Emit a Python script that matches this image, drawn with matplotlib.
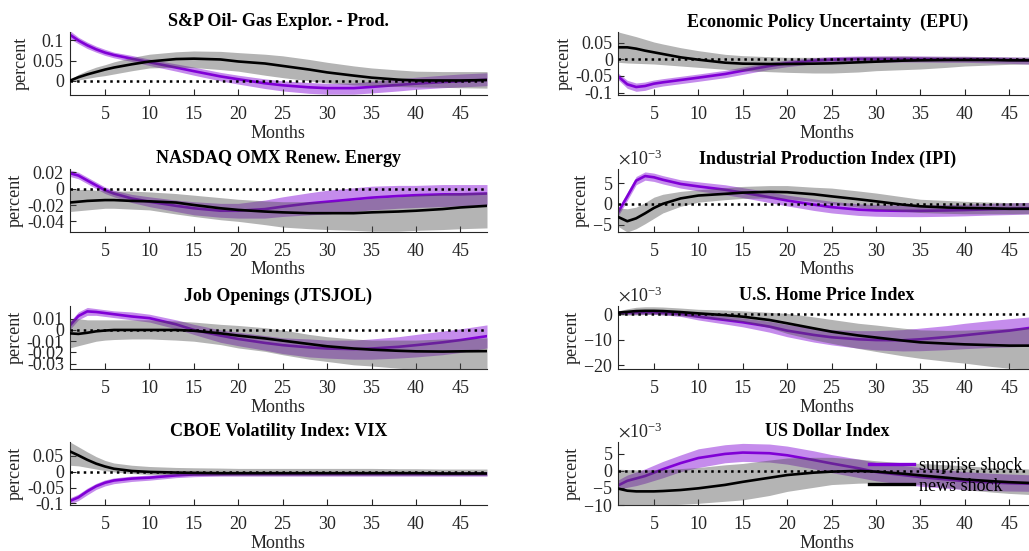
import numpy as np
import matplotlib
matplotlib.use("Agg")
import matplotlib.pyplot as plt
from matplotlib.lines import Line2D

plt.rcParams['font.family'] = ['Liberation Serif', 'DejaVu Serif']
plt.rcParams['mathtext.fontset'] = 'stix'
plt.rcParams['axes.unicode_minus'] = False

# horizon (months) at which the responses are listed
months = [1, 2, 3, 4, 5, 6, 8, 10, 13, 15, 18, 20, 23, 25, 28, 30, 33, 35, 38, 40, 43, 45, 48]

# S&P Oil & Gas Exploration & Production
oil_surprise = [0.115, 0.100, 0.088, 0.078, 0.070, 0.064, 0.055, 0.046, 0.033, 0.024, 0.011, 0.004, -0.006, -0.011,
                -0.016, -0.018, -0.018, -0.015, -0.010, -0.007, -0.003, -0.001, 0.003]
oil_surprise_lo = [0.105, 0.092, 0.080, 0.071, 0.063, 0.057, 0.048, 0.038, 0.024, 0.014, 0.000, -0.008, -0.019, -0.025,
                   -0.031, -0.033, -0.033, -0.030, -0.025, -0.021, -0.017, -0.015, -0.012]
oil_surprise_hi = [0.125, 0.108, 0.096, 0.086, 0.078, 0.071, 0.063, 0.054, 0.042, 0.034, 0.021, 0.014, 0.005, 0.000,
                   -0.004, -0.006, -0.005, -0.001, 0.005, 0.009, 0.014, 0.017, 0.020]
oil_news = [0.000, 0.009, 0.016, 0.022, 0.028, 0.033, 0.041, 0.048, 0.054, 0.055, 0.053, 0.048, 0.043, 0.037,
            0.028, 0.021, 0.013, 0.008, 0.003, 0.001, 0.001, 0.001, 0.002]
oil_news_lo = [-0.002, 0.002, 0.006, 0.010, 0.013, 0.017, 0.025, 0.032, 0.034, 0.033, 0.028, 0.024, 0.014, 0.008,
               0.000, -0.005, -0.010, -0.012, -0.014, -0.015, -0.016, -0.017, -0.018]
oil_news_hi = [0.002, 0.016, 0.026, 0.034, 0.040, 0.047, 0.058, 0.066, 0.072, 0.074, 0.073, 0.070, 0.066, 0.062,
               0.053, 0.046, 0.037, 0.032, 0.027, 0.024, 0.023, 0.023, 0.023]

# Economic Policy Uncertainty
epu_surprise = [-0.052, -0.075, -0.083, -0.080, -0.073, -0.069, -0.062, -0.055, -0.044, -0.034, -0.020, -0.012, -0.004,
                -0.001, 0.001, 0.001, 0.001, 0.001, 0.000, 0.000, -0.001, -0.002, -0.004]
epu_surprise_lo = [-0.062, -0.087, -0.096, -0.093, -0.085, -0.080, -0.073, -0.066, -0.055, -0.045, -0.030, -0.022,
                   -0.013, -0.010, -0.008, -0.008, -0.008, -0.008, -0.009, -0.009, -0.011, -0.012, -0.015]
epu_surprise_hi = [-0.042, -0.063, -0.071, -0.068, -0.062, -0.058, -0.051, -0.044, -0.033, -0.023, -0.010, -0.002,
                   0.005, 0.008, 0.010, 0.010, 0.010, 0.010, 0.009, 0.009, 0.008, 0.007, 0.006]
epu_news = [0.036, 0.036, 0.032, 0.026, 0.021, 0.016, 0.006, -0.001, -0.010, -0.013, -0.014, -0.014, -0.013, -0.012,
            -0.009, -0.007, -0.004, -0.003, -0.002, -0.002, -0.002, -0.003, -0.003]
epu_news_lo = [-0.009, -0.011, -0.012, -0.013, -0.014, -0.016, -0.020, -0.024, -0.030, -0.034, -0.037, -0.039, -0.041,
               -0.041, -0.038, -0.034, -0.031, -0.029, -0.024, -0.020, -0.017, -0.015, -0.014]
epu_news_hi = [0.082, 0.075, 0.068, 0.060, 0.052, 0.046, 0.035, 0.026, 0.015, 0.011, 0.008, 0.006, 0.006, 0.006,
               0.008, 0.009, 0.010, 0.009, 0.009, 0.009, 0.008, 0.007, 0.006]

# NASDAQ OMX Renewable Energy
renew_surprise = [0.019, 0.016, 0.010, 0.004, -0.002, -0.006, -0.012, -0.016, -0.021, -0.024, -0.027, -0.027, -0.025,
                  -0.022, -0.018, -0.016, -0.013, -0.011, -0.009, -0.008, -0.007, -0.007, -0.006]
renew_surprise_lo = [0.015, 0.012, 0.006, 0.000, -0.006, -0.010, -0.017, -0.022, -0.028, -0.032, -0.035, -0.036,
                     -0.036, -0.034, -0.032, -0.031, -0.028, -0.026, -0.024, -0.023, -0.022, -0.021, -0.020]
renew_surprise_hi = [0.023, 0.020, 0.014, 0.008, 0.002, -0.002, -0.007, -0.010, -0.014, -0.016, -0.018, -0.018,
                     -0.014, -0.010, -0.005, -0.002, 0.001, 0.003, 0.004, 0.004, 0.005, 0.005, 0.005]
renew_news = [-0.017, -0.016, -0.015, -0.0145, -0.014, -0.014, -0.015, -0.0155, -0.017, -0.020, -0.024, -0.026, -0.028,
              -0.029, -0.030, -0.030, -0.030, -0.029, -0.028, -0.027, -0.025, -0.023, -0.021]
renew_news_lo = [-0.028, -0.027, -0.026, -0.025, -0.024, -0.024, -0.025, -0.026, -0.031, -0.034, -0.038, -0.040,
                 -0.044, -0.047, -0.049, -0.050, -0.051, -0.052, -0.052, -0.051, -0.050, -0.049, -0.048]
renew_news_hi = [-0.001, -0.001, -0.001, -0.002, -0.002, -0.003, -0.003, -0.004, -0.006, -0.008, -0.011, -0.013,
                 -0.015, -0.016, -0.016, -0.016, -0.014, -0.012, -0.010, -0.008, -0.006, -0.005, -0.004]

# Industrial Production Index (x 1e-3)
ipi_surprise = [-1.9, 1.8, 5.6, 6.7, 6.4, 5.8, 4.8, 4.2, 3.4, 2.7, 1.6, 0.8, -0.2, -0.8, -1.4, -1.6, -1.7, -1.7, -1.6,
                -1.5, -1.3, -1.2, -1.0]
ipi_surprise_lo = [-2.8, 0.8, 4.6, 5.7, 5.4, 4.8, 3.8, 3.1, 2.2, 1.5, 0.3, -0.5, -1.6, -2.2, -2.8, -3.0, -3.1, -3.1,
                   -3.0, -2.9, -2.7, -2.6, -2.4]
ipi_surprise_hi = [-1.0, 2.8, 6.6, 7.7, 7.4, 6.8, 5.8, 5.3, 4.6, 3.9, 2.9, 2.1, 1.2, 0.6, 0.0, -0.2, -0.3, -0.3, -0.2,
                   -0.1, 0.1, 0.2, 0.4]
ipi_news = [-3.2, -4.2, -3.5, -2.3, -1.0, 0.0, 1.3, 2.0, 2.4, 2.7, 2.9, 2.8, 2.3, 1.8, 1.1, 0.6, -0.2, -0.6, -0.9,
            -1.0, -1.1, -1.2, -1.2]
ipi_news_lo = [-5.5, -6.8, -6.0, -4.8, -3.5, -2.2, -0.6, 0.4, 1.0, 1.3, 1.4, 1.2, 0.6, 0.0, -0.8, -1.3, -1.8, -2.1,
               -2.3, -2.4, -2.4, -2.4, -2.4]
ipi_news_hi = [-1.0, -1.2, -0.8, 0.3, 1.6, 2.3, 3.0, 3.4, 3.9, 4.2, 4.4, 4.4, 4.0, 3.8, 3.1, 2.6, 1.7, 1.1, 0.8, 0.6,
               0.4, 0.3, 0.3]

# Job Openings
jobs_surprise = [0.0036, 0.0124, 0.0165, 0.016, 0.015, 0.014, 0.012, 0.0105, 0.005, 0.000, -0.005, -0.008, -0.0115,
                 -0.0135, -0.0155, -0.0165, -0.017, -0.0165, -0.015, -0.0135, -0.011, -0.009, -0.0055]
jobs_surprise_lo = [0.000, 0.009, 0.013, 0.013, 0.012, 0.011, 0.009, 0.007, 0.001, -0.004, -0.011, -0.014, -0.018,
                    -0.021, -0.024, -0.025, -0.026, -0.026, -0.025, -0.024, -0.022, -0.020, -0.016]
jobs_surprise_hi = [0.007, 0.016, 0.020, 0.019, 0.018, 0.017, 0.016, 0.014, 0.009, 0.005, 0.000, -0.002, -0.005,
                    -0.007, -0.008, -0.009, -0.009, -0.008, -0.006, -0.004, -0.001, 0.001, 0.0045]
jobs_news = [-0.003, -0.0035, -0.0025, -0.0012, -0.0005, 0.0, 0.0, 0.0, 0.0, -0.0007, -0.003, -0.005, -0.0075,
             -0.0095, -0.0125, -0.0145, -0.0165, -0.0175, -0.0185, -0.019, -0.0192, -0.019, -0.0188]
jobs_news_lo = [-0.016, -0.014, -0.012, -0.010, -0.009, -0.0085, -0.008, -0.008, -0.009, -0.010, -0.013, -0.016,
                -0.019, -0.022, -0.026, -0.028, -0.031, -0.032, -0.034, -0.035, -0.035, -0.035, -0.035]
jobs_news_hi = [0.010, 0.010, 0.009, 0.009, 0.009, 0.009, 0.009, 0.009, 0.008, 0.007, 0.005, 0.004, 0.002, 0.000,
                -0.004, -0.006, -0.008, -0.009, -0.009, -0.009, -0.008, -0.008, -0.007]

# U.S. Home Price Index (x 1e-3)
home_surprise = [0.6, 0.7, 0.8, 0.8, 0.8, 0.6, 0.2, -0.9, -2.2, -3.1, -4.8, -6.4, -8.1, -9.0, -9.8, -10.1, -10.2,
                 -9.8, -8.9, -8.2, -7.1, -6.4, -5.0]
home_surprise_lo = [0.0, 0.0, 0.0, 0.0, 0.0, -0.2, -0.8, -2.2, -3.8, -4.9, -7.0, -8.8, -10.9, -12.0, -13.3, -14.0,
                    -14.4, -14.3, -13.9, -13.5, -13.0, -12.8, -12.5]
home_surprise_hi = [1.2, 1.4, 1.5, 1.6, 1.6, 1.4, 1.1, 0.3, -0.7, -1.4, -2.7, -4.0, -5.4, -6.0, -6.4, -6.4, -6.0,
                    -5.4, -4.4, -3.5, -2.4, -1.7, -0.8]
home_news = [0.7, 1.0, 1.3, 1.4, 1.4, 1.3, 0.9, 0.4, -0.3, -0.9, -2.2, -3.5, -5.5, -6.8, -8.3, -9.1, -10.3, -11.0,
             -11.5, -11.8, -12.1, -12.3, -12.3]
home_news_lo = [-0.3, -0.3, -0.2, -0.1, 0.0, -0.2, -0.6, -1.2, -2.2, -2.9, -5.2, -7.5, -10.0, -11.4, -13.4, -14.6,
                -16.3, -17.3, -18.5, -19.2, -20.5, -21.2, -21.5]
home_news_hi = [1.4, 2.2, 2.8, 3.0, 3.0, 2.9, 2.5, 2.0, 1.7, 1.4, 0.8, 0.4, -1.0, -2.0, -3.5, -4.2, -5.4, -6.1, -6.3,
                -6.2, -5.8, -5.5, -5.0]

# CBOE Volatility Index
vix_surprise = [-0.093, -0.081, -0.062, -0.046, -0.035, -0.028, -0.022, -0.019, -0.012, -0.009, -0.008, -0.0075,
                -0.0075, -0.0075, -0.0075, -0.0075, -0.0075, -0.0075, -0.0075, -0.0075, -0.0075, -0.0075, -0.0075]
vix_surprise_lo = [-0.103, -0.091, -0.073, -0.056, -0.045, -0.038, -0.031, -0.027, -0.019, -0.016, -0.014, -0.014,
                   -0.014, -0.014, -0.014, -0.014, -0.014, -0.014, -0.014, -0.014, -0.014, -0.014, -0.014]
vix_surprise_hi = [-0.083, -0.071, -0.052, -0.037, -0.026, -0.020, -0.014, -0.011, -0.005, -0.002, -0.001, -0.001,
                   -0.001, -0.001, -0.001, -0.001, -0.001, -0.001, -0.001, -0.001, 0.000, 0.000, 0.000]
vix_news = [0.064, 0.051, 0.037, 0.025, 0.016, 0.009, 0.002, -0.001, -0.003, -0.004, -0.005, -0.005, -0.005, -0.005,
            -0.005, -0.005, -0.005, -0.005, -0.005, -0.005, -0.006, -0.006, -0.006]
vix_news_lo = [0.020, 0.018, 0.013, 0.008, 0.003, -0.001, -0.006, -0.009, -0.011, -0.012, -0.013, -0.013, -0.013,
               -0.013, -0.013, -0.013, -0.013, -0.013, -0.013, -0.013, -0.013, -0.013, -0.013]
vix_news_hi = [0.094, 0.078, 0.062, 0.047, 0.035, 0.027, 0.020, 0.016, 0.013, 0.012, 0.011, 0.010, 0.010, 0.010,
               0.010, 0.010, 0.010, 0.010, 0.009, 0.009, 0.008, 0.008, 0.008]

# US Dollar Index (x 1e-3)
usd_surprise = [-4.2, -2.9, -2.2, -1.5, -0.5, 0.5, 2.3, 3.8, 5.0, 5.4, 5.2, 4.6, 3.2, 2.2, 0.8, -0.3, -1.2, -1.8,
                -2.5, -3.0, -3.4, -3.6, -3.8]
usd_surprise_lo = [-5.5, -4.8, -4.3, -3.6, -2.8, -2.0, -0.2, 1.0, 2.4, 2.8, 2.6, 2.0, 0.6, -0.5, -1.9, -2.9, -3.9,
                   -4.5, -5.1, -5.5, -5.8, -5.9, -6.0]
usd_surprise_hi = [-2.6, -1.2, -0.3, 0.6, 1.7, 2.8, 4.7, 6.5, 7.7, 8.1, 7.9, 7.3, 5.9, 4.8, 3.5, 2.5, 1.6, 1.0, 0.3,
                   -0.2, -0.7, -0.9, -1.2]
usd_news = [-5.2, -5.8, -6.0, -6.0, -6.0, -5.9, -5.6, -5.1, -4.1, -3.2, -2.0, -1.2, -0.5, -0.2, 0.0, -0.2, -0.8,
            -1.3, -2.0, -2.5, -3.0, -3.3, -3.6]
usd_news_lo = [-10.0, -10.0, -10.0, -10.0, -10.0, -10.0, -9.8, -9.5, -8.9, -8.5, -7.2, -6.0, -4.8, -4.0, -3.6, -3.5,
               -3.7, -4.0, -4.8, -5.5, -6.2, -6.6, -7.0]
usd_news_hi = [0.5, 0.4, 0.3, 0.3, 0.4, 0.5, 0.7, 1.0, 1.8, 2.2, 3.2, 3.8, 4.0, 4.0, 3.5, 3.0, 2.4, 2.2, 1.8, 1.5,
               1.0, 0.8, 0.5]

titles = ['S&P Oil- Gas Explor. - Prod.', 'Economic Policy Uncertainty  (EPU)',
          'NASDAQ OMX Renew. Energy', 'Industrial Production Index (IPI)',
          'Job Openings (JTSJOL)', 'U.S. Home Price Index',
          'CBOE Volatility Index: VIX', 'US Dollar Index']
series = [
    (oil_surprise, oil_surprise_lo, oil_surprise_hi, oil_news, oil_news_lo, oil_news_hi),
    (epu_surprise, epu_surprise_lo, epu_surprise_hi, epu_news, epu_news_lo, epu_news_hi),
    (renew_surprise, renew_surprise_lo, renew_surprise_hi, renew_news, renew_news_lo, renew_news_hi),
    (ipi_surprise, ipi_surprise_lo, ipi_surprise_hi, ipi_news, ipi_news_lo, ipi_news_hi),
    (jobs_surprise, jobs_surprise_lo, jobs_surprise_hi, jobs_news, jobs_news_lo, jobs_news_hi),
    (home_surprise, home_surprise_lo, home_surprise_hi, home_news, home_news_lo, home_news_hi),
    (vix_surprise, vix_surprise_lo, vix_surprise_hi, vix_news, vix_news_lo, vix_news_hi),
    (usd_surprise, usd_surprise_lo, usd_surprise_hi, usd_news, usd_news_lo, usd_news_hi),
]
# 1 = plain percent, 1e-3 = values listed in thousandths
scales = [1, 1, 1, 1e-3, 1, 1e-3, 1, 1e-3]
ylims = [(-0.035, 0.121), (-0.107, 0.082), (-0.053, 0.024), (-6.8, 8.4),
         (-0.0347, 0.0213), (-21.5, 3.3), (-0.105, 0.093), (-10.0, 8.5)]
yticks = [[0, 0.05, 0.1], [-0.1, -0.05, 0, 0.05], [-0.04, -0.02, 0, 0.02], [-5, 0, 5],
          [-0.03, -0.02, -0.01, 0, 0.01], [-20, -10, 0], [-0.1, -0.05, 0, 0.05], [-10, -5, 0, 5]]

PURPLE = (0.5, 0.0, 0.84)
TXT = '#262626'
FS = 13

fig = plt.figure(figsize=(10.29, 5.51), dpi=100)
W, H = 1029.0, 551.0
lefts = [69.5, 618.4]
width = 417.5
bottoms = [95, 232, 369, 505]
height = 63

for i in range(8):
    r, c = divmod(i, 2)
    ax = fig.add_axes([lefts[c] / W, 1 - bottoms[r] / H, width / W, height / H])
    s, s_lo, s_hi, n, n_lo, n_hi = [np.asarray(v) * scales[i] for v in series[i]]

    ax.fill_between(months, s_lo, s_hi, color=PURPLE, alpha=0.45, lw=0, zorder=1)
    ax.plot(months, s, color=PURPLE, lw=1.9, zorder=2)
    ax.fill_between(months, n_lo, n_hi, color=(0.3, 0.3, 0.3), alpha=0.42, lw=0, zorder=3)
    ax.axhline(0, color='k', ls=':', lw=1.8, zorder=4)
    ax.plot(months, n, color='k', lw=1.9, zorder=5)

    ax.set_xlim(1, 48)
    ax.set_ylim(ylims[i][0] * scales[i], ylims[i][1] * scales[i])
    ax.set_xticks(range(5, 50, 5))
    ax.set_yticks(np.array(yticks[i]) * scales[i])
    if scales[i] != 1:
        ax.ticklabel_format(axis='y', style='sci', scilimits=(-3, -3), useMathText=True)
        ax.yaxis.get_offset_text().set_fontsize(FS)
        ax.yaxis.get_offset_text().set_color(TXT)
    else:
        ax.set_yticklabels([f'{t:g}' for t in yticks[i]])

    for side in ('top', 'right'):
        ax.spines[side].set_visible(False)
    for side in ('left', 'bottom'):
        ax.spines[side].set_color(TXT)
        ax.spines[side].set_linewidth(0.8)
    ax.tick_params(direction='in', length=4, width=0.8, colors=TXT, labelsize=FS)
    ax.tick_params(axis='x', pad=8)
    ax.tick_params(axis='y', pad=4)

    ax.set_title(titles[i], fontsize=FS, fontweight='bold', pad=4)
    ax.set_xlabel('Months', fontsize=FS, color=TXT, labelpad=1)
    ax.set_ylabel('percent', fontsize=FS, color=TXT, labelpad=2)

    if i == 7:
        handles = [Line2D([], [], color=PURPLE, lw=2.4), Line2D([], [], color='k', lw=2.4)]
        ax.legend(handles, ['surprise shock', 'news shock'], loc='upper left',
                  bbox_to_anchor=(0.6, 0.76), frameon=False, fontsize=FS,
                  handlelength=2.5, handletextpad=0.25, labelspacing=0.2,
                  borderpad=0, borderaxespad=0)

fig.savefig('out.png', dpi=100)
